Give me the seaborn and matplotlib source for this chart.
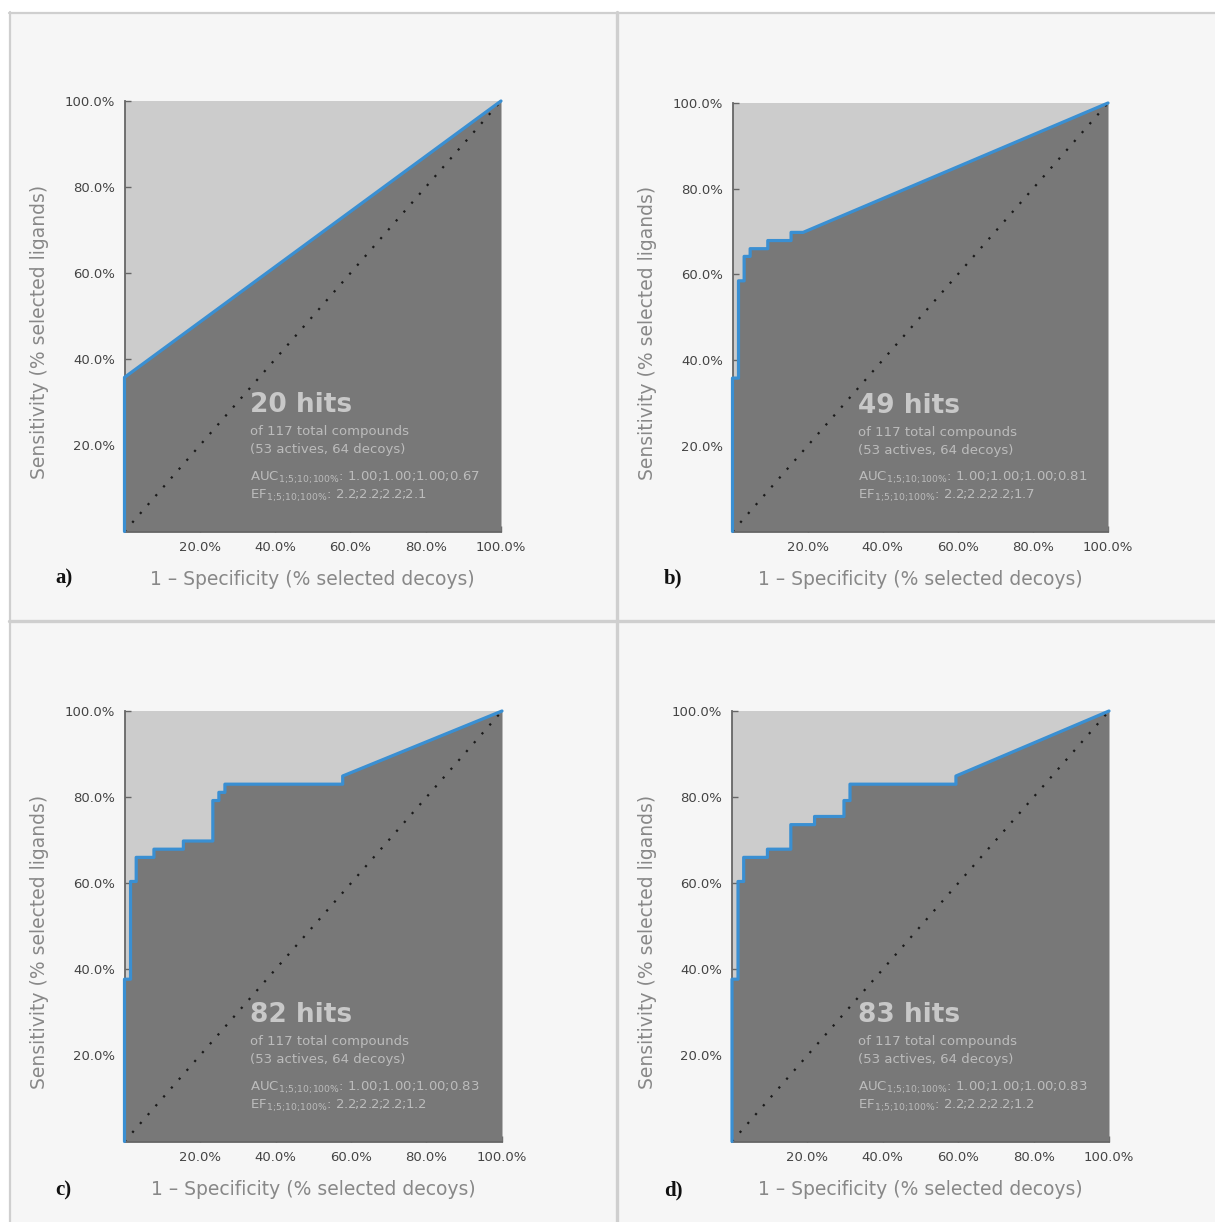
import matplotlib.pyplot as plt
import seaborn as sns
from matplotlib.lines import Line2D
from matplotlib.patches import Rectangle

sns.set_theme(style='white')
plt.rcParams['font.family'] = ['DejaVu Sans']
plt.rcParams['mathtext.fontset'] = 'dejavusans'
plt.rcParams['mathtext.default'] = 'regular'

# ROC vertices (% selected decoys, % selected ligands)
fpr_a = [0, 0, 100]
tpr_a = [0, 35.8, 100]

fpr_b = [0, 0, 1.6, 1.6, 3.1, 3.1, 4.7, 4.7, 9.4, 9.4, 15.6, 15.6, 18.8, 100]
tpr_b = [0, 35.8, 35.8, 58.5, 58.5, 64.2, 64.2, 66.0, 66.0, 67.9, 67.9, 69.8, 69.8, 100]

fpr_c = [0, 0, 1.6, 1.6, 3.1, 3.1, 7.8, 7.8, 15.6, 15.6, 23.4, 23.4, 25.0, 25.0,
         26.6, 26.6, 57.8, 57.8, 100]
tpr_c = [0, 37.7, 37.7, 60.4, 60.4, 66.0, 66.0, 67.9, 67.9, 69.8, 69.8, 79.2, 79.2, 81.1,
         81.1, 83.0, 83.0, 84.9, 100]

fpr_d = [0, 0, 1.6, 1.6, 3.1, 3.1, 9.4, 9.4, 15.6, 15.6, 21.9, 21.9, 29.7, 29.7,
         31.3, 31.3, 59.4, 59.4, 100]
tpr_d = [0, 37.7, 37.7, 60.4, 60.4, 66.0, 66.0, 67.9, 67.9, 73.6, 73.6, 75.5, 75.5, 79.2,
         79.2, 83.0, 83.0, 84.9, 100]

panel_labels = ['a)', 'b)', 'c)', 'd)']
hits = [20, 49, 82, 83]
auc_text = ['1.00;1.00;1.00;0.67', '1.00;1.00;1.00;0.81', '1.00;1.00;1.00;0.83', '1.00;1.00;1.00;0.83']
ef_text = ['2.2;2.2;2.2;2.1', '2.2;2.2;2.2;1.7', '2.2;2.2;2.2;1.2', '2.2;2.2;2.2;1.2']
n_total, n_actives, n_decoys = 117, 53, 64
tick_vals = [20, 40, 60, 80, 100]

curves = [(fpr_a, tpr_a), (fpr_b, tpr_b), (fpr_c, tpr_c), (fpr_d, tpr_d)]

W, H = 1215, 1222
fig = plt.figure(figsize=(W / 100, H / 100), dpi=100)
fig.patch.set_facecolor('white')

# panel background and frame lines
fig.add_artist(Rectangle((9 / W, 0), 1, 1 - 12 / H, transform=fig.transFigure,
                         facecolor='#f6f6f6', edgecolor='none', zorder=-10))
frame = '#cfcfcf'
fig.add_artist(Line2D([9 / W, 1], [1 - 12.5 / H, 1 - 12.5 / H], color=frame, lw=1.6))
fig.add_artist(Line2D([9.5 / W, 9.5 / W], [0, 1 - 12 / H], color=frame, lw=1.6))
fig.add_artist(Line2D([617 / W, 617 / W], [0, 1 - 12 / H], color=frame, lw=2.4))
fig.add_artist(Line2D([9 / W, 1], [1 - 621 / H, 1 - 621 / H], color=frame, lw=2.4))

# axes boxes in pixels: left, top, right, bottom
boxes = [(124.5, 101, 501, 531.5), (732.5, 103, 1108, 531.5),
         (124.5, 711, 502, 1141.5), (732, 711, 1109, 1141.5)]
label_pos = [(55, 578), (664, 578), (55, 1190), (664, 1190)]

sub = r'$_{1;\!5;\!10;\!100\%}$'

for i, ((fpr, tpr), (l, t, r, b)) in enumerate(zip(curves, boxes)):
    ax = fig.add_axes([l / W, 1 - b / H, (r - l) / W, (b - t) / H])
    ax.set_facecolor('#cccccc')
    ax.fill_between(fpr, tpr, 0, color='#787878', lw=0, zorder=1)
    ax.plot([0, 100], [0, 100], ls=(0, (1, 4.3)), color='#1a1a1a', lw=1.6, zorder=2)
    sns.lineplot(x=fpr, y=tpr, sort=False, estimator=None, ax=ax,
                 color='#3a8fd2', lw=2.3, zorder=3, clip_on=False)
    ax.set_xlim(0, 100)
    ax.set_ylim(0, 100)
    ax.set_xticks(tick_vals)
    ax.set_yticks(tick_vals)
    ax.set_xticklabels([f'{v:.1f}%' for v in tick_vals])
    ax.set_yticklabels([f'{v:.1f}%' for v in tick_vals])
    ax.tick_params(direction='in', length=4, width=1, color='#666666',
                   labelsize=9.5, labelcolor='#444444', pad=7,
                   bottom=True, left=True)
    for s in ['top', 'right']:
        ax.spines[s].set_visible(False)
    for s in ['left', 'bottom']:
        ax.spines[s].set_color('#666666')
        ax.spines[s].set_linewidth(1.3)
    ax.set_xlabel('1 – Specificity (% selected decoys)', fontsize=13.5, color='#888888')
    ax.set_ylabel('Sensitivity (% selected ligands)', fontsize=13.5, color='#888888')
    ax.xaxis.set_label_coords(0.5, -0.09)
    ax.yaxis.set_label_coords(-0.2, 0.463)

    ax.text(0.333, 0.294, f'{hits[i]} hits', transform=ax.transAxes, fontsize=19,
            fontweight='bold', color='#c8c8c8', va='center', ha='left', zorder=5)
    small = dict(transform=ax.transAxes, fontsize=9.5, color='#bcbcbc', va='center', zorder=5)
    ax.text(0.333, 0.232, f'of {n_total} total compounds', **small)
    ax.text(0.333, 0.19, f'({n_actives} actives, {n_decoys} decoys)', **small)
    ax.text(0.333, 0.125, 'AUC' + sub + ': ' + auc_text[i], **small)
    ax.text(0.333, 0.083, 'EF' + sub + ': ' + ef_text[i], **small)

    lx, ly = label_pos[i]
    fig.text(lx / W, 1 - ly / H, panel_labels[i], fontsize=15, fontweight='bold',
             family='Liberation Serif', color='#111111', va='center', ha='left')

fig.savefig('out.png', dpi=100)
